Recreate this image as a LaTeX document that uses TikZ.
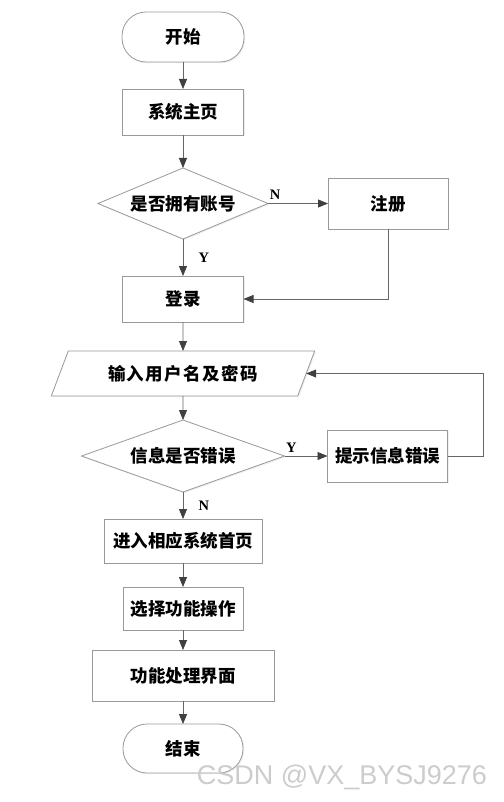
\documentclass[tikz,border=0pt]{standalone}
\usepackage{fontspec}
\setmainfont{Liberation Serif}
\newfontfamily\cjk{Noto Sans CJK SC}
\newfontfamily\wmfont{Liberation Sans}
\usetikzlibrary{arrows.meta,positioning,shapes.geometric,shadows}

\begin{document}
\begin{tikzpicture}[x=1pt,y=1pt,->,>={Triangle[length=10pt,width=8pt,color=black!75]},
                    line width=0.8pt,draw=black!60,
                    box/.style={rectangle,draw=black!40,fill=white,outer sep=0pt,
                      drop shadow={shadow xshift=1.2pt,shadow yshift=-1.2pt,fill=black!12},
                      font=\cjk\bfseries\fontsize{17.5pt}{19pt}\selectfont},
                    term/.style={box,rounded corners=24pt},
                    decision/.style={box,diamond,aspect=2.4,inner sep=0pt},
                    io/.style={box,trapezium,trapezium left angle=64,trapezium right angle=116,
                      trapezium stretches=true}]
  \useasboundingbox (0,0) rectangle (503,-802);

  \node[term,minimum width=122pt,minimum height=50pt] (1) at (183,-37) {开始};
  \node[box,minimum width=121pt,minimum height=46pt] (2) [below=27pt of 1] {系统主页};
  \node[decision,minimum width=170pt,minimum height=71pt] (3) [below=33pt of 2] {是否拥有账号};
  \node[box,minimum width=120pt,minimum height=51pt] (4) [right=60pt of 3] {注册};
  \node[box,minimum width=121pt,minimum height=46pt] (5) [below=37pt of 3] {登录};
  \node[io,minimum width=264pt,minimum height=45pt] (6) [below=29pt of 5]
    {\addfontfeature{LetterSpace=8}输入用户名及密码};
  \node[decision,minimum width=203pt,minimum height=72pt] (7) [below=24pt of 6] {信息是否错误};
  \node[box,minimum width=120pt,minimum height=52pt] (8) [right=43pt of 7] {提示信息错误};
  \node[box,minimum width=158pt,minimum height=44pt] (9) [below=27pt of 7] {进入相应系统首页};
  \node[box,minimum width=120pt,minimum height=43pt] (10) [below=24pt of 9] {选择功能操作};
  \node[box,minimum width=182pt,minimum height=51pt] (11) [below=20pt of 10] {功能处理界面};
  \node[term,minimum width=120pt,minimum height=49pt] (12) [below=23pt of 11] {结束};

  \path[every node/.style={font=\bfseries\fontsize{14.5pt}{14.5pt}\selectfont}]
    (1) edge (2)
    (2) edge (3)
    (3) edge node[pos=0.12,above] {N} (4)
    (3) edge node[right=12pt] {Y} (5)
    (5) edge (6)
    (6) edge (7)
    (7) edge node[pos=0.16,above] {Y} (8)
    (7) edge node[right=12pt] {N} (9)
    (9) edge (10)
    (10) edge (11)
    (11) edge (12);
  \draw (4.south) |- (5.east);
  \draw (8.east) -- ++(36,0) |- (6.east);

  \node[font=\wmfont\fontsize{27pt}{27pt}\selectfont,text=black!20] (wm) at (342,-777) {CSDN @VX\_BYSJ9276};
\end{tikzpicture}
\end{document}
